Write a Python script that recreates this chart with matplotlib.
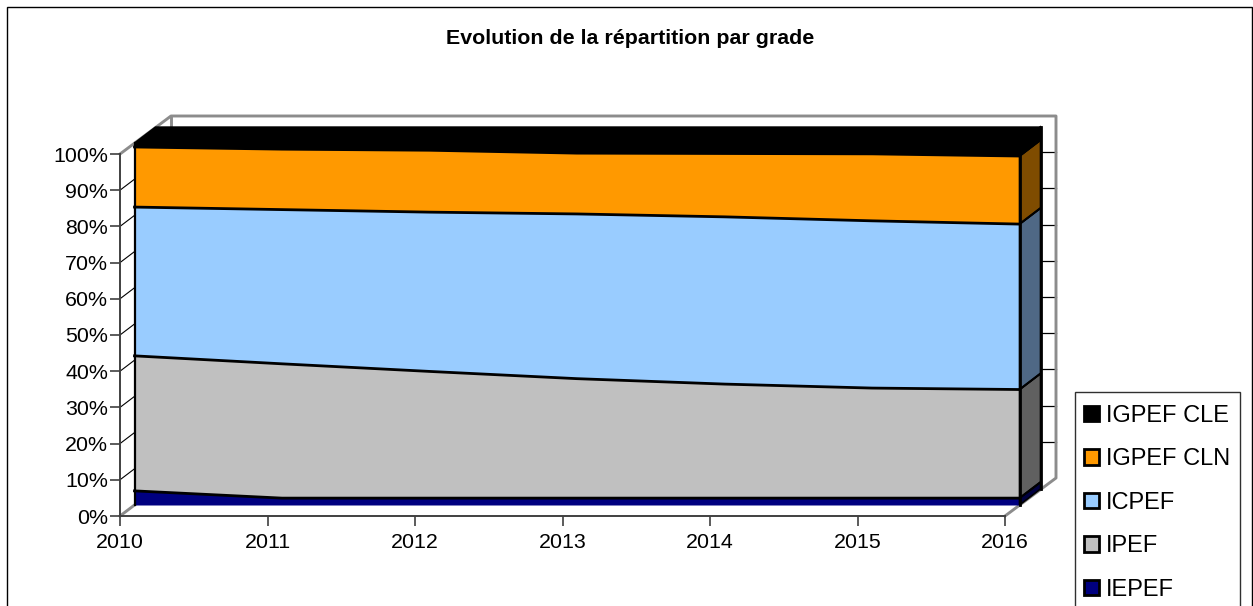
import matplotlib
matplotlib.use("Agg")
import matplotlib.pyplot as plt
import numpy as np
from matplotlib.patches import Patch, Polygon, Rectangle
from matplotlib.transforms import Affine2D, IdentityTransform

plt.rcParams["font.family"] = ["Liberation Sans", "DejaVu Sans"]

years = [2010, 2011, 2012, 2013, 2014, 2015, 2016]
y_ticks = [0, 10, 20, 30, 40, 50, 60, 70, 80, 90, 100]

series_names = ["IEPEF", "IPEF", "ICPEF", "IGPEF CLN", "IGPEF CLE"]
iepef = [3.9, 1.9, 1.9, 1.9, 1.9, 1.9, 1.9]
ipef = [37.3, 37.1, 35.0, 33.0, 31.5, 30.4, 30.0]
icpef = [41.1, 42.6, 44.0, 45.5, 46.2, 46.2, 45.7]
igpef_cln = [16.6, 16.7, 17.1, 16.8, 17.5, 18.5, 18.8]
igpef_cle = [1.1, 1.7, 2.0, 2.8, 2.9, 3.0, 3.6]

colors = ["#000080", "#C0C0C0", "#99CCFF", "#FF9900", "#000000"]
side_colors = ["#000040", "#606060", "#4F6885", "#7F4C00", "#000000"]

# offsets of the 3D box in pixels, from the axis plane
FRONT = (14.5, 11)
BACK = (35.5, 27)
WALL = (51, 38)
GREY = "#8C8C8C"

fig = plt.figure(figsize=(12.53, 6.06), dpi=100)
ax = fig.add_axes([120 / 1253, 1 - 516 / 606, 885 / 1253, 362 / 606])
ax.set_xlim(years[0], years[-1])
ax.set_ylim(0, 100)
ax.patch.set_visible(False)

fig.add_artist(Rectangle((7 / 1253, -0.1), 1245 / 1253, 1.1 - 7 / 606,
                         transform=fig.transFigure, fill=False,
                         edgecolor="black", linewidth=1))


def px(x, y, offset=(0, 0)):
    p = ax.transData.transform((x, y))
    return (p[0] + offset[0], p[1] + offset[1])


def line3d(points, color, lw, zorder):
    xs, ys = zip(*points)
    ax.plot(xs, ys, color=color, lw=lw, transform=IdentityTransform(),
            clip_on=False, zorder=zorder, solid_capstyle="projecting")


# back walls
for t in y_ticks[:-1]:
    line3d([px(years[0], t), px(years[0], t, FRONT)], "black", 0.8, 1)
for t in y_ticks[1:-1]:
    line3d([px(years[-1], t, (BACK[0], WALL[1])), px(years[-1], t, WALL)], "black", 0.9, 1)
line3d([px(years[0], 100), px(years[0], 100, WALL), px(years[-1], 100, WALL),
        px(years[-1], 0, WALL), px(years[-1], 0)], GREY, 2.1, 1)
line3d([px(years[0], 100, WALL), px(years[0], 92, WALL)], GREY, 2.1, 1)
line3d([px(years[0], 0), px(years[0], 0, FRONT)], GREY, 2.1, 1)

front = Affine2D().translate(*FRONT)
stack = np.cumsum([iepef, ipef, icpef, igpef_cln, igpef_cle], axis=0)

# top face of the block
ax.add_patch(Polygon([px(years[0], 100, FRONT), px(years[0], 100, BACK),
                      px(years[-1], 100, BACK), px(years[-1], 100, FRONT)],
                     closed=True, facecolor="black", edgecolor="black",
                     transform=IdentityTransform(), clip_on=False, zorder=2))

lower = np.zeros(len(years))
for i, name in enumerate(series_names):
    upper = stack[i]
    ax.fill_between(years, lower, upper, color=colors[i], lw=0, zorder=3,
                    transform=ax.transData + front, clip_on=False)
    # right side face
    ax.add_patch(Polygon([px(years[-1], lower[-1], FRONT), px(years[-1], upper[-1], FRONT),
                          px(years[-1], upper[-1], BACK), px(years[-1], lower[-1], BACK)],
                         closed=True, facecolor=side_colors[i], edgecolor="black",
                         lw=1.2, transform=IdentityTransform(), clip_on=False, zorder=3))
    ax.plot(years, upper, color="black", lw=2, zorder=4,
            transform=ax.transData + front, clip_on=False)
    line3d([px(years[-1], upper[-1], FRONT), px(years[-1], upper[-1], BACK)], "black", 1.5, 4)
    lower = upper

line3d([px(years[0], 0, FRONT), px(years[0], 100, FRONT)], "black", 1.6, 5)
line3d([px(years[-1], 0, FRONT), px(years[-1], 100, FRONT)], "black", 2, 5)
line3d([px(years[-1], 0, BACK), px(years[-1], 100, BACK)], "black", 2, 5)

ax.set_xticks(years)
ax.set_yticks(y_ticks)
ax.set_yticklabels([f"{t}%" for t in y_ticks])
ax.tick_params(labelsize=15.4, length=7, width=1.2, color="#404040")
ax.tick_params(axis="x", pad=5)
ax.tick_params(axis="y", pad=1.4)
for side in ["top", "right"]:
    ax.spines[side].set_visible(False)
for side in ["left", "bottom"]:
    ax.spines[side].set_color("#404040")
    ax.spines[side].set_linewidth(1.4)

fig.text(630 / 1253, 1 - 39 / 606, "Evolution de la répartition par grade",
         ha="center", va="center", fontsize=15.4, fontweight="bold")

# legend box runs past the bottom edge, so the frame is drawn on its own
fig.add_artist(Rectangle((1075 / 1253, -0.1), 165 / 1253, 0.1 + 1 - 392 / 606,
                         transform=fig.transFigure, facecolor="white",
                         edgecolor="#303030", linewidth=1))
handles = [Patch(facecolor=colors[i], edgecolor="black", lw=2, label=series_names[i])
           for i in range(4, -1, -1)]
fig.legend(handles=handles, loc="upper left", bbox_to_anchor=(1075 / 1253, 1 - 395.5 / 606),
           fontsize=17, frameon=False,
           borderaxespad=0, borderpad=0.4, handlelength=0.62, handleheight=0.62,
           handletextpad=0.3, labelspacing=0.91)

fig.savefig("out.png", dpi=100)
